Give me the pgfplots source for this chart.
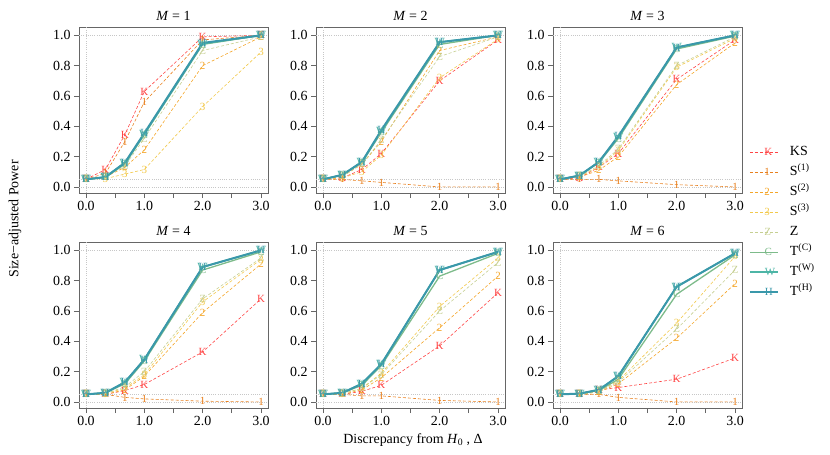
\documentclass[border=0pt]{standalone}
\usepackage{fontspec}
\setmainfont{Liberation Serif}
\usepackage{pgfplots}
\pgfplotsset{compat=1.18}
\usepackage{pgfplotstable}

\definecolor{cK}{HTML}{FF4545}
\definecolor{cA}{HTML}{E8801E}
\definecolor{cB}{HTML}{F4A62A}
\definecolor{cC}{HTML}{F2C94C}
\definecolor{cZ}{HTML}{C6CF92}
\definecolor{cT}{HTML}{7DBB8A}
\definecolor{cW}{HTML}{4DB5A6}
\definecolor{cH}{HTML}{3A98AA}

\pgfplotstableread{
x      K     S1    S2    S3    Z     C     W     H
0      0.05  0.05  0.05  0.05  0.05  0.05  0.05  0.05
0.3333 0.115 0.09  0.065 0.055 0.065 0.065 0.065 0.065
0.6667 0.345 0.30  0.13  0.085 0.14  0.15  0.16  0.16
1      0.63  0.56  0.245 0.115 0.32  0.345 0.35  0.355
2      0.99  0.97  0.80  0.53  0.90  0.94  0.945 0.95
3      1.0   1.0   0.99  0.89  0.99  1.0   1.0   1.0
}\tabA
\pgfplotstableread{
x      K     S1    S2    S3    Z     C     W     H
0      0.05  0.05  0.05  0.05  0.05  0.05  0.05  0.05
0.3333 0.06  0.05  0.07  0.06  0.07  0.08  0.08  0.08
0.6667 0.115 0.04  0.15  0.10  0.15  0.16  0.165 0.165
1      0.22  0.03  0.30  0.21  0.31  0.36  0.37  0.375
2      0.70  0.00  0.90  0.72  0.86  0.94  0.955 0.955
3      0.97  0.00  0.99  0.975 0.99  1.0   1.0   1.0
}\tabB
\pgfplotstableread{
x      K     S1    S2    S3    Z     C     W     H
0      0.05  0.05  0.05  0.05  0.05  0.05  0.05  0.05
0.3333 0.06  0.05  0.065 0.07  0.07  0.075 0.075 0.075
0.6667 0.13  0.05  0.11  0.13  0.14  0.16  0.165 0.165
1      0.22  0.04  0.20  0.24  0.25  0.32  0.33  0.335
2      0.71  0.015 0.675 0.79  0.80  0.91  0.92  0.92
3      0.97  0.00  0.95  0.98  0.99  0.995 1.0   1.0
}\tabC
\pgfplotstableread{
x      K     S1    S2    S3    Z     C     W     H
0      0.05  0.05  0.05  0.05  0.05  0.05  0.05  0.05
0.3333 0.05  0.05  0.05  0.055 0.055 0.06  0.06  0.06
0.6667 0.075 0.03  0.08  0.09  0.10  0.12  0.13  0.13
1      0.115 0.02  0.17  0.18  0.20  0.27  0.28  0.28
2      0.33  0.005 0.59  0.66  0.68  0.87  0.89  0.89
3      0.68  0.0   0.91  0.94  0.95  0.99  1.0   1.0
}\tabD
\pgfplotstableread{
x      K     S1    S2    S3    Z     C     W     H
0      0.05  0.05  0.05  0.05  0.05  0.05  0.05  0.05
0.3333 0.05  0.05  0.05  0.055 0.055 0.06  0.06  0.06
0.6667 0.07  0.04  0.08  0.09  0.09  0.11  0.12  0.12
1      0.11  0.04  0.16  0.19  0.18  0.24  0.25  0.25
2      0.37  0.01  0.49  0.63  0.60  0.83  0.87  0.87
3      0.72  0.0   0.83  0.95  0.92  0.98  0.99  0.99
}\tabE
\pgfplotstableread{
x      K     S1    S2    S3    Z     C     W     H
0      0.05  0.05  0.05  0.05  0.05  0.05  0.05  0.05
0.3333 0.05  0.05  0.05  0.05  0.05  0.055 0.055 0.055
0.6667 0.08  0.05  0.065 0.07  0.07  0.075 0.08  0.08
1      0.095 0.03  0.12  0.14  0.13  0.15  0.17  0.17
2      0.15  0.0   0.42  0.52  0.48  0.71  0.76  0.76
3      0.29  0.0   0.78  0.96  0.87  0.97  0.98  0.98
}\tabF

\pgfplotsset{
  panel/.style={
    scale only axis, width=189bp, height=166bp, anchor=north west,
    xmin=-0.12, xmax=3.12, ymin=-0.04, ymax=1.055,
    xtick={0,0.5,1,1.5,2,2.5,3}, xticklabels={0.0,,1.0,,2.0,,3.0},
    ytick={0,0.2,0.4,0.6,0.8,1}, yticklabels={0.0,0.2,0.4,0.6,0.8,1.0},
    tick pos=left, tick align=outside, major tick length=5bp,
    axis line style={black!60, line width=0.7pt},
    tick style={black!60, line width=0.7pt},
    every tick label/.append style={font=\fontsize{14}{16}\selectfont},
    title style={font=\fontsize{14}{16}\selectfont, yshift=-3bp},
    /pgf/number format/assume math mode=true,
    clip=false,
  },
  dsh/.style n args={2}{color=#1, line width=0.6bp, dash pattern=on 3bp off 2bp,
    mark=text, text mark={#2}, text mark as node=true,
    text mark style={font=\fontsize{11}{11}\selectfont, text=#1, inner sep=0pt},
    mark options={solid}},
  sld/.style n args={3}{color=#1, line width=#3, solid,
    mark=text, text mark={#2}, text mark as node=true,
    text mark style={font=\fontsize{11}{11}\selectfont, text=#1, inner sep=0pt},
    mark options={solid}},
  refline/.style={forget plot, black!22, line width=0.5bp, dash pattern=on 0.6bp off 1.6bp, mark=none},
}

\newcommand{\refl}{%
  \addplot[refline] coordinates {(-0.12,1) (3.12,1)};
  \addplot[refline] coordinates {(-0.12,0.05) (3.12,0.05)};
  \addplot[refline] coordinates {(-0.12,0) (3.12,0)};
  \addplot[refline] coordinates {(0,-0.04) (0,1.055)};
}
\newcommand{\series}[1]{%
  \refl
  \addplot[dsh={cK}{K}] table[x=x,y=K]{#1};
  \addplot[dsh={cA}{1}] table[x=x,y=S1]{#1};
  \addplot[dsh={cB}{2}] table[x=x,y=S2]{#1};
  \addplot[dsh={cC}{3}] table[x=x,y=S3]{#1};
  \addplot[dsh={cZ}{Z}] table[x=x,y=Z]{#1};
  \addplot[sld={cT}{C}{1.3bp}] table[x=x,y=C]{#1};
  \addplot[sld={cW}{W}{1.6bp}] table[x=x,y=W]{#1};
  \addplot[sld={cH}{H}{2bp}] table[x=x,y=H]{#1};
}

\begin{document}
\begin{tikzpicture}
\useasboundingbox (0,0) rectangle (830bp,-455bp);

\begin{axis}[panel, at={(79bp,-27bp)}, title={\textit{M} = 1}]
\series{\tabA}
\end{axis}
\begin{axis}[panel, at={(316bp,-27bp)}, title={\textit{M} = 2}]
\series{\tabB}
\end{axis}
\begin{axis}[panel, at={(553bp,-27bp)}, title={\textit{M} = 3},
  legend entries={KS, S\textsuperscript{(1)}, S\textsuperscript{(2)}, S\textsuperscript{(3)}, Z, T\textsuperscript{(C)}, T\textsuperscript{(W)}, T\textsuperscript{(H)}},
  legend cell align=left,
  legend image code/.code={\draw[mark repeat=2,mark phase=2,#1] plot coordinates {(0bp,0bp) (14bp,0bp) (28bp,0bp)};},
  legend style={at={(1.02,0.31)}, anchor=north west, draw=none, fill=none,
    font=\fontsize{14}{16}\selectfont, row sep=3bp,
    nodes={inner sep=1bp, text height=11bp, text depth=4bp},
    /tikz/every odd column/.append style={column sep=10bp}}]
\series{\tabC}
\end{axis}
\begin{axis}[panel, at={(79bp,-242bp)}, title={\textit{M} = 4}]
\series{\tabD}
\end{axis}
\begin{axis}[panel, at={(316bp,-242bp)}, title={\textit{M} = 5}]
\series{\tabE}
\end{axis}
\begin{axis}[panel, at={(553bp,-242bp)}, title={\textit{M} = 6}]
\series{\tabF}
\end{axis}

\node[rotate=90, font=\fontsize{14}{16}\selectfont] at (15bp,-219bp) {Size−adjusted Power};
\node[font=\fontsize{14}{16}\selectfont] at (413bp,-440bp) {Discrepancy from \textit{H}\textsubscript{0} , Δ};
\end{tikzpicture}
\end{document}
